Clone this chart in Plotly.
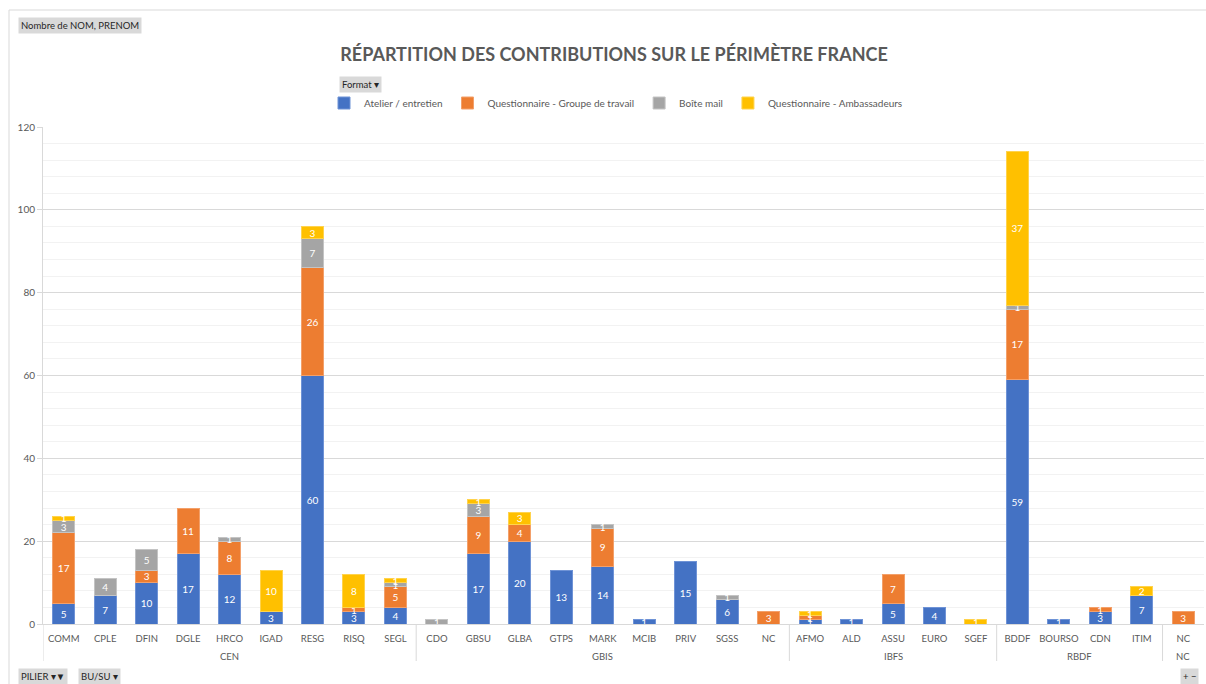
import plotly.graph_objects as go

piliers = ["CEN"] * 9 + ["GBIS"] * 9 + ["IBFS"] * 5 + ["RBDF"] * 4 + ["NC"]
bu_su = ["COMM", "CPLE", "DFIN", "DGLE", "HRCO", "IGAD", "RESG", "RISQ", "SEGL",
         "CDO", "GBSU", "GLBA", "GTPS", "MARK", "MCIB", "PRIV", "SGSS", "NC",
         "AFMO", "ALD", "ASSU", "EURO", "SGEF",
         "BDDF", "BOURSO", "CDN", "ITIM",
         "NC"]

atelier = [5, 7, 10, 17, 12, 3, 60, 3, 4,
           None, 17, 20, 13, 14, 1, 15, 6, None,
           1, 1, 5, 4, None,
           59, 1, 3, 7,
           None]
questionnaire_gt = [17, None, 3, 11, 8, None, 26, 1, 5,
                    None, 9, 4, None, 9, None, None, None, 3,
                    1, None, 7, None, None,
                    17, None, 1, None,
                    3]
boite_mail = [3, 4, 5, None, 1, None, 7, None, 1,
              1, 3, None, None, 1, None, None, 1, None,
              None, None, None, None, None,
              1, None, None, None,
              None]
questionnaire_amb = [1, None, None, None, None, 10, 3, 8, 1,
                     None, 1, 3, None, None, None, None, None, None,
                     1, None, None, None, 1,
                     37, None, None, 2,
                     None]

series = [
    ("Atelier / entretien", atelier, "#4472C4", "#6f93d6"),
    ("Questionnaire - Groupe de travail", questionnaire_gt, "#ED7D31", "#f3a06a"),
    ("Boîte mail", boite_mail, "#A5A5A5", "#c4c4c4"),
    ("Questionnaire - Ambassadeurs", questionnaire_amb, "#FFC000", "#ffd34d"),
]

FONT = "Lato, 'Open Sans', sans-serif"
GREY = "#595959"
LINE = "#d9d9d9"

L, R, T, B = 43, 2, 127, 60
PW = 1206 - L - R
PH = 684 - T - B

# unique category keys (pilier + BU/SU), displayed with the BU/SU label
keys = [f"{p} / {b}" for p, b in zip(piliers, bu_su)]

fig = go.Figure()
for name, vals, col, edge in series:
    fig.add_trace(go.Bar(
        name=name,
        x=keys,
        y=vals,
        marker=dict(color=col, line=dict(color=edge, width=1)),
        text=[str(v) if v is not None else "" for v in vals],
        textposition="inside",
        insidetextanchor="middle",
        constraintext="none",
        textangle=0,
        textfont=dict(color="white", size=10, family=FONT),
        hoverinfo="x+y+name",
    ))

fig.update_layout(
    barmode="stack",
    bargap=0.47,
    width=1206,
    height=684,
    paper_bgcolor="white",
    plot_bgcolor="white",
    font=dict(family=FONT, color=GREY, size=10),
    margin=dict(l=L, r=R, t=T, b=B, autoexpand=False),
    title=dict(
        text="RÉPARTITION DES CONTRIBUTIONS SUR LE PÉRIMÈTRE FRANCE",
        x=(614 - L) / PW, xanchor="center", xref="paper",
        y=1 - 55 / 684, yanchor="middle", yref="container",
        font=dict(size=18, color=GREY, family=FONT, weight="bold"),
    ),
    legend=dict(
        orientation="h",
        x=(616 - L) / PW, xanchor="center",
        y=1 - 103 / 684, yanchor="middle", yref="container",
        font=dict(size=10, color=GREY, family=FONT),
        itemwidth=30,
        traceorder="normal",
        bgcolor="rgba(0,0,0,0)",
    ),
    showlegend=True,
)

fig.update_yaxes(
    range=[0, 120],
    dtick=20,
    showgrid=True,
    gridcolor=LINE,
    gridwidth=1,
    minor=dict(dtick=4, showgrid=True, gridcolor="#f2f2f2", gridwidth=1),
    ticks="outside",
    ticklen=5,
    tickcolor=LINE,
    tickfont=dict(size=10, color=GREY, family=FONT),
    showline=True,
    linecolor=LINE,
    zeroline=False,
    fixedrange=True,
    automargin=False,
)

fig.update_xaxes(
    type="category",
    categoryorder="array",
    categoryarray=keys,
    tickmode="array",
    tickvals=keys,
    ticktext=bu_su,
    range=[-0.5, len(keys) - 0.5],
    showline=True,
    linecolor=LINE,
    tickangle=0,
    ticklabelstandoff=6,
    tickfont=dict(size=9.5, color=GREY, family=FONT),
    ticks="",
    showgrid=False,
    automargin=False,
)

# group dividers and group (PILIER) labels
groups = []
for i, p in enumerate(piliers):
    if not groups or groups[-1][0] != p or i == 0:
        groups.append([p, i, i])
    else:
        groups[-1][2] = i
# separate identical consecutive names are not present; build boundaries
bounds = [g[1] - 0.5 for g in groups]
for bnd in bounds:
    fig.add_shape(type="line", xref="x", yref="paper",
                  x0=bnd, x1=bnd, y0=0, y1=-37 / PH,
                  line=dict(color=LINE, width=1))
for p, i0, i1 in groups:
    fig.add_annotation(text=p, xref="x", yref="paper",
                       x=(i0 + i1) / 2, y=-32 / PH,
                       xanchor="center", yanchor="middle", showarrow=False,
                       font=dict(size=9.5, color=GREY, family=FONT))

# Border of chart area
fig.add_shape(type="rect", xref="paper", yref="paper",
              x0=(9 - L) / PW, x1=1.2, y0=-1.0, y1=(684 - B - 10) / PH,
              line=dict(color=LINE, width=1), fillcolor="rgba(0,0,0,0)", layer="below")

def button(text, x, y):
    fig.add_annotation(text=text, xref="paper", yref="paper",
                       x=(x - L) / PW, y=(684 - B - y) / PH,
                       xanchor="left", yanchor="middle", showarrow=False,
                       bgcolor="#d9d9d9", borderpad=2,
                       font=dict(size=9.5, color="#262626", family=FONT))

button("Nombre de NOM, PRENOM", 18, 25)
button("Format ▾", 339, 84)
button("PILIER ▾▼", 18, 676)
button("BU/SU ▾", 78, 676)
button("+ −", 1180, 676)

fig.write_html(
    "out.html",
    config={"displayModeBar": False},
    post_script="document.body.style.margin='0';document.body.style.overflow='hidden';",
)
